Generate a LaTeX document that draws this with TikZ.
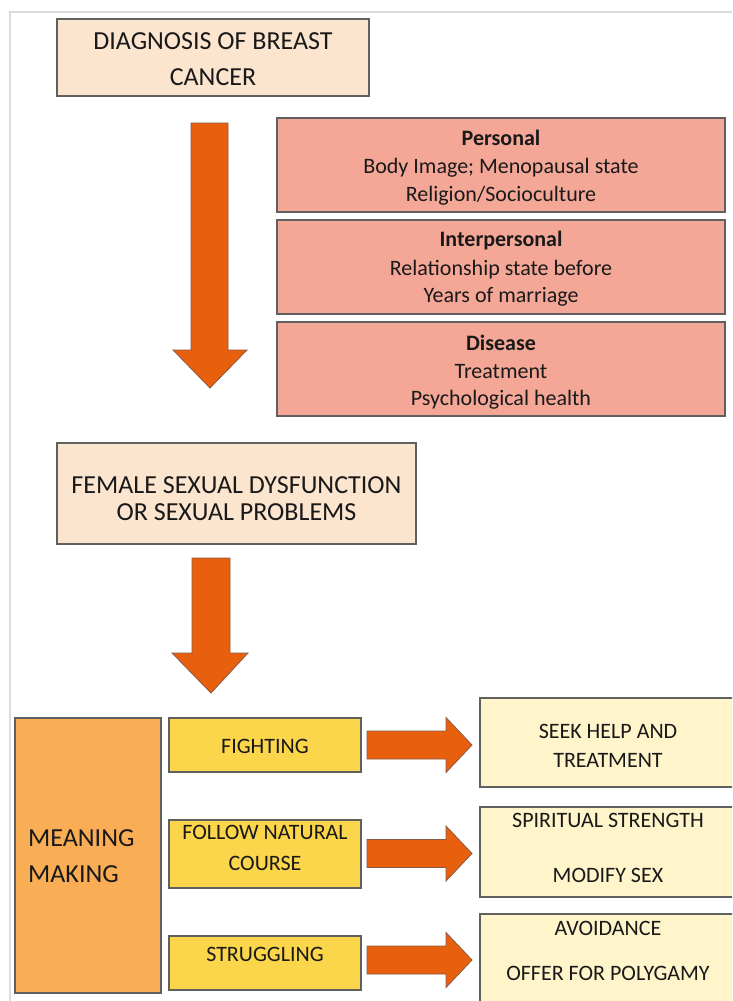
\documentclass[tikz,border=0pt]{standalone}
\usepackage{fontspec}
\setmainfont{Carlito}
\definecolor{peach}{HTML}{FCE5CF}
\definecolor{salmon}{HTML}{F4A797}
\definecolor{arroworange}{HTML}{E8600E}
\definecolor{arrowedge}{HTML}{8A5A45}
\definecolor{meaningorange}{HTML}{F9AE55}
\definecolor{boxyellow}{HTML}{FCD64A}
\definecolor{cream}{HTML}{FFF4CA}
\definecolor{edgegray}{HTML}{606060}
\definecolor{framegray}{HTML}{DCDCDC}
\tikzset{
  box/.style={rectangle, draw=edgegray, line width=1.2pt, inner sep=0pt},
  txt/.style={anchor=base, inner sep=0pt, text=black!90},
  big/.style={font=\fontsize{26}{30}\selectfont},
  mid/.style={font=\fontsize{22}{26}\selectfont},
  midb/.style={font=\fontsize{22}{26}\selectfont\bfseries},
  blockarrow/.style={fill=arroworange, draw=arrowedge, line width=0.8pt, line join=miter}
}
\begin{document}
\begin{tikzpicture}[x=1pt,y=-1pt]
\useasboundingbox (0,0) rectangle (732,1001);
\clip (0,0) rectangle (732,1001);
\fill[white] (0,0) rectangle (732,1001);
% frame
\draw[framegray, line width=1.5pt] (10,1001) -- (10,12) -- (732,12);

% boxes
\node[box, fill=peach, minimum width=312pt, minimum height=77pt] (diag) at (213,57.5) {};
\node[box, fill=salmon, minimum width=448pt, minimum height=94pt] (pers) at (501,165) {};
\node[box, fill=salmon, minimum width=448pt, minimum height=94pt] (inter) at (501,267) {};
\node[box, fill=salmon, minimum width=448pt, minimum height=94pt] (dis) at (501,369) {};
\node[box, fill=peach, minimum width=359pt, minimum height=101pt] (fem) at (236.5,493.5) {};
\node[box, fill=meaningorange, minimum width=146pt, minimum height=275pt] (mean) at (88,855.5) {};
\node[box, fill=boxyellow, minimum width=192pt, minimum height=54pt] (fight) at (265,745) {};
\node[box, fill=boxyellow, minimum width=192pt, minimum height=68pt] (follow) at (265,854) {};
\node[box, fill=boxyellow, minimum width=192pt, minimum height=54pt] (strug) at (265,963) {};
\node[box, fill=cream, minimum width=256pt, minimum height=89pt] (seek) at (608,742.5) {};
\node[box, fill=cream, minimum width=256pt, minimum height=90pt] (spirit) at (608,852) {};
\node[box, fill=cream, minimum width=256pt, minimum height=96pt] (avoid) at (608,962) {};

% texts
\node[txt, big] (t1) at (213,49) {DIAGNOSIS OF BREAST};
\node[txt, big] (t2) at (213,85) {CANCER};
\node[txt, midb] (t3) at (501,145) {Personal};
\node[txt, mid] (t4) at (501,173) {Body Image; Menopausal state};
\node[txt, mid] (t5) at (501,201.5) {Religion/Socioculture};
\node[txt, midb] (t6) at (501,246.5) {Interpersonal};
\node[txt, mid] (t7) at (501,275) {Relationship state before};
\node[txt, mid] (t8) at (501,302.5) {Years of marriage};
\node[txt, midb] (t9) at (501,350) {Disease};
\node[txt, mid] (t10) at (501,378) {Treatment};
\node[txt, mid] (t11) at (501,405) {Psychological health};
\node[txt, big] (t12) at (236.5,493) {FEMALE SEXUAL DYSFUNCTION};
\node[txt, big] (t13) at (236.5,520.5) {OR SEXUAL PROBLEMS};
\node[txt, big, anchor=base west] (t14) at (28,846.5) {MEANING};
\node[txt, big, anchor=base west] (t15) at (28,882) {MAKING};
\node[txt, mid] (t16) at (265,753) {FIGHTING};
\node[txt, mid] (t17) at (265,839) {FOLLOW NATURAL};
\node[txt, mid] (t18) at (265,870) {COURSE};
\node[txt, mid] (t19) at (265,961.5) {STRUGGLING};
\node[txt, mid] (t20) at (608,738) {SEEK HELP AND};
\node[txt, mid] (t21) at (608,767) {TREATMENT};
\node[txt, mid] (t22) at (608,827) {SPIRITUAL STRENGTH};
\node[txt, mid] (t23) at (608,882.5) {MODIFY SEX};
\node[txt, mid] (t24) at (608,935.5) {AVOIDANCE};
\node[txt, mid] (t25) at (608,980) {OFFER FOR POLYGAMY};

% block arrows
\draw[blockarrow] (191,123) -- (228,123) -- (228,350) -- (247,350) -- (210,388) -- (173,350) -- (191,350) -- cycle;
\draw[blockarrow] (192,558) -- (230,558) -- (230,653) -- (248,653) -- (211,693) -- (172,653) -- (192,653) -- cycle;
\foreach \c/\n in {745/a, 853.5/b, 960/c}{
  \draw[blockarrow] (367,\c-14) -- (446,\c-14) -- (446,\c-27.5) -- (472,\c) -- (446,\c+27.5) -- (446,\c+14) -- (367,\c+14) -- cycle;
}
\end{tikzpicture}
\end{document}
